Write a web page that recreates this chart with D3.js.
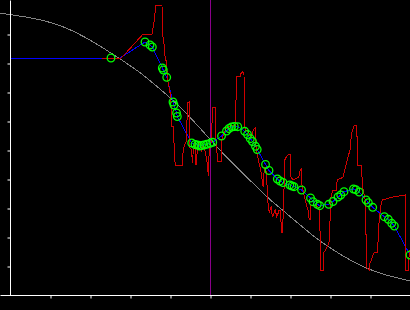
<!DOCTYPE html>
<html>
<head>
<meta charset="utf-8">
<script src="https://cdn.jsdelivr.net/npm/d3@7"></script>
<style>
  body { margin: 0; background: #000; }
  svg { display: block; background: #000; }
</style>
</head>
<body>
<svg id="chart" width="410" height="310"></svg>
<script>
// reference curve (gray)
const refX = [-0.25, 0, 0.575, 1.0, 1.425, 1.825, 2.25, 2.675, 3.25, 3.75, 4.075, 4.425, 4.75, 5.125, 5.625, 6.125, 6.5, 6.75, 7.2, 7.75, 8.45, 8.875, 9.375, 10.0];
const refY = [9.72, 9.67, 9.55, 9.41, 9.21, 8.93, 8.59, 8.21, 7.69, 7.10, 6.72, 6.24, 5.76, 5.17, 4.45, 3.79, 3.28, 3.0, 2.48, 1.83, 1.24, 0.93, 0.69, 0.48];

// raw signal (red)
const rawX = [2.30, 2.78, 3.33, 3.55, 3.58, 3.61, 3.64, 3.80, 3.81, 3.86, 3.88, 3.92, 3.93, 3.98, 4.02, 4.04, 4.08, 4.13, 4.31, 4.31,
  4.35, 4.42, 4.43, 4.48, 4.48, 4.54, 4.56, 4.58, 4.63, 4.65, 4.69, 4.75, 4.79, 4.83, 4.88, 4.92, 4.96, 4.98, 5.02, 5.07,
  5.14, 5.15, 5.17, 5.18, 5.29, 5.29, 5.35, 5.42, 5.50, 5.63, 5.67, 5.75, 5.78, 5.82, 5.85, 5.86, 5.88, 5.96, 6.04, 6.08,
  6.13, 6.14, 6.17, 6.21, 6.25, 6.28, 6.33, 6.36, 6.39, 6.42, 6.44, 6.48, 6.53, 6.56, 6.63, 6.67, 6.73, 6.76, 6.79, 6.81,
  6.84, 6.87, 6.91, 6.95, 7.01, 7.02, 7.08, 7.16, 7.22, 7.24, 7.28, 7.30, 7.35, 7.40, 7.45, 7.48, 7.50, 7.51, 7.63, 7.70,
  7.74, 7.77, 7.83, 7.83, 7.89, 7.95, 7.99, 8.01, 8.03, 8.08, 8.16, 8.18, 8.28, 8.33, 8.37, 8.43, 8.50, 8.54, 8.60, 8.67,
  8.69, 8.79, 8.81, 8.83, 8.88, 8.92, 8.98, 9.00, 9.04, 9.08, 9.13, 9.19, 9.21, 9.23, 9.28, 9.31, 9.58, 9.88, 9.89, 9.96,
  9.98, 10.0];
const rawY = [8.17, 8.17, 9.00, 9.00, 9.24, 9.48, 9.98, 9.98, 9.03, 8.55, 8.17, 8.00, 7.48, 7.14, 6.83, 5.80, 5.80, 4.45, 4.45, 4.76,
  5.11, 5.34, 6.62, 6.66, 5.11, 5.00, 4.55, 4.93, 5.28, 4.48, 5.10, 5.24, 5.00, 5.17, 4.93, 4.66, 4.10, 5.00, 5.10, 6.48,
  6.48, 5.34, 5.24, 4.60, 4.60, 5.34, 5.59, 5.76, 5.83, 5.86, 7.52, 7.52, 7.66, 7.70, 7.59, 5.93, 5.69, 5.62, 5.45, 5.69,
  5.76, 5.24, 4.90, 4.66, 4.41, 4.21, 3.72, 4.41, 4.41, 3.97, 3.28, 2.86, 3.03, 2.69, 2.93, 2.69, 2.93, 2.93, 2.14, 2.14,
  3.10, 4.66, 4.77, 4.83, 4.83, 4.07, 3.97, 4.03, 4.07, 4.24, 4.37, 3.79, 3.45, 3.17, 2.93, 2.59, 2.59, 3.10, 3.10, 3.03,
  2.93, 0.86, 0.86, 1.45, 1.55, 1.72, 1.90, 3.17, 3.45, 3.62, 3.62, 3.97, 4.03, 4.07, 4.31, 4.66, 5.00, 5.59, 5.83, 5.83,
  4.45, 4.45, 3.72, 3.62, 3.28, 0.93, 0.86, 1.10, 1.21, 1.41, 1.48, 1.48, 2.14, 2.59, 3.17, 3.28, 3.38, 3.45, 0.86, 0.86,
  1.45, 1.55];

// fitted points (green circles) and fit line (blue)
const ptX = [2.525, 3.375, 3.5, 3.558, 3.808, 3.833, 3.918, 4.075, 4.1, 4.163, 4.183, 4.543, 4.625, 4.688, 4.738, 4.788, 4.85, 4.918, 5.0, 5.068,
  5.288, 5.413, 5.475, 5.538, 5.608, 5.693, 5.868, 5.938, 6.008, 6.063, 6.138, 6.18, 6.388, 6.475, 6.683, 6.75, 6.825, 6.995, 7.05, 7.1,
  7.288, 7.513, 7.575, 7.683, 7.743, 7.968, 8.075, 8.2, 8.268, 8.35, 8.588, 8.645, 8.73, 8.9, 8.958, 9.068, 9.358, 9.458, 9.543, 9.608,
  10.0];
const ptY = [8.172, 8.724, 8.621, 8.552, 7.828, 7.759, 7.507, 6.655, 6.552, 6.276, 6.155, 5.241, 5.19, 5.172, 5.138, 5.155, 5.172, 5.197, 5.231, 5.266,
  5.483, 5.655, 5.741, 5.793, 5.81, 5.803, 5.645, 5.534, 5.39, 5.293, 5.128, 5.017, 4.5, 4.293, 4.0, 3.931, 3.879, 3.793, 3.759, 3.734,
  3.621, 3.345, 3.217, 3.128, 3.079, 3.128, 3.224, 3.379, 3.448, 3.562, 3.655, 3.631, 3.552, 3.276, 3.183, 3.024, 2.7, 2.61, 2.472, 2.379,
  1.379];
const fitX = [0, 2.525, 2.75].concat(ptX.slice(1));
const fitY = [8.172, 8.172, 8.172].concat(ptY.slice(1));

const markerX = 5;

const svg = d3.select("#chart");
const width = +svg.attr("width");

const x = d3.scaleLinear().domain([0, 10]).range([10, 410]);
const y = d3.scaleLinear().domain([0, 10]).range([295, 5]);

function zip(xs, ys) {
  return xs.map((v, i) => [v, ys[i]]);
}

const line = d3.line()
  .x(d => x(d[0]))
  .y(d => y(d[1]));

svg.append("path")
  .datum(zip(refX, refY))
  .attr("fill", "none")
  .attr("stroke", "#848484")
  .attr("stroke-width", 1)
  .attr("shape-rendering", "crispEdges")
  .attr("d", line.curve(d3.curveBasis));

line.curve(d3.curveLinear);

svg.append("path")
  .datum(zip(fitX, fitY))
  .attr("fill", "none")
  .attr("stroke", "#0000ff")
  .attr("stroke-width", 1)
  .attr("shape-rendering", "crispEdges")
  .attr("d", line);

svg.append("path")
  .datum(zip(rawX, rawY))
  .attr("fill", "none")
  .attr("stroke", "#d00000")
  .attr("stroke-width", 1)
  .attr("shape-rendering", "crispEdges")
  .attr("d", line);

svg.append("line")
  .attr("x1", x(markerX) + 0.5)
  .attr("x2", x(markerX) + 0.5)
  .attr("y1", 0)
  .attr("y2", y(0))
  .attr("stroke", "#8a008a")
  .attr("stroke-width", 1);

svg.selectAll(".pt")
  .data(zip(ptX, ptY))
  .enter()
  .append("circle")
  .attr("class", "pt")
  .attr("cx", d => x(d[0]))
  .attr("cy", d => y(d[1]))
  .attr("r", 3.8)
  .attr("fill", "none")
  .attr("stroke", "#00ff00")
  .attr("stroke-width", 1.3);

// axes, no labels
const xAxis = svg.append("g")
  .attr("transform", `translate(0.5,${y(0) + 0.5})`)
  .call(d3.axisBottom(x).tickValues(d3.range(1, 10)).tickSize(3).tickSizeOuter(0).tickFormat(""));

const yAxis = svg.append("g")
  .attr("transform", `translate(${x(0) + 0.5},0.5)`)
  .call(d3.axisLeft(y).tickValues(d3.range(1, 10)).tickSize(3).tickSizeOuter(0).tickFormat(""));

yAxis.select(".domain").attr("d", `M0,0V${y(0)}`);
xAxis.select(".domain").attr("d", `M0,0H${width}`);

svg.selectAll(".domain, .tick line")
  .attr("stroke", "#fff")
  .attr("stroke-width", 1);
</script>
</body>
</html>
